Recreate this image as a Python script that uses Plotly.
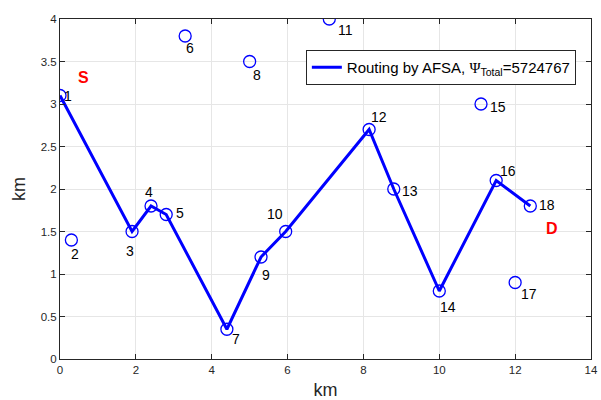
import plotly.graph_objects as go

# Node data
node_ids = list(range(1, 19))
node_x = [0.0, 0.3, 1.9, 2.4, 2.8, 3.3, 4.4, 5.0, 5.3, 5.95, 7.1, 8.15, 8.8, 10.0, 11.1, 11.5, 12.0, 12.4]
node_y = [3.1, 1.4, 1.5, 1.8, 1.7, 3.8, 0.35, 3.5, 1.2, 1.5, 4.0, 2.7, 2.0, 0.8, 3.0, 2.1, 0.9, 1.8]

# Route found by AFSA (node ids)
route = [1, 3, 4, 5, 7, 9, 10, 12, 13, 14, 16, 18]

# Label positions (data coords)
label_x = [0.21, 0.39, 1.84, 2.35, 3.16, 3.44, 4.63, 5.2, 5.44, 5.66, 7.53, 8.4, 9.24, 10.22, 11.56, 11.8, 12.36, 12.85]
label_y = [3.09, 1.24, 1.27, 1.97, 1.72, 3.66, 0.23, 3.34, 0.99, 1.71, 3.87, 2.85, 1.98, 0.61, 2.96, 2.21, 0.77, 1.81]

x_ticks = [0, 2, 4, 6, 8, 10, 12, 14]
y_ticks = [0, 0.5, 1, 1.5, 2, 2.5, 3, 3.5, 4]
y_tick_text = ["0", "0.5", "1", "1.5", "2", "2.5", "3", "3.5", "4"]

route_x = [node_x[i - 1] for i in route]
route_y = [node_y[i - 1] for i in route]

FONT = "Liberation Sans, Arial, sans-serif"

fig = go.Figure()
fig.add_trace(go.Scatter(
    x=node_x, y=node_y, mode="markers",
    marker=dict(symbol="circle-open", size=12, color="#0000ff", line=dict(width=1.3, color="#0000ff")),
    showlegend=False, hoverinfo="skip"))
fig.add_trace(go.Scatter(
    x=route_x, y=route_y, mode="lines",
    line=dict(color="#0000ff", width=3),
    name="Routing by AFSA, <span style=\"font-family:'Liberation Serif'\">Ψ</span><sub>Total</sub>=5724767"))

annotations = []
for i, lx, ly in zip(node_ids, label_x, label_y):
    annotations.append(dict(x=lx, y=ly, xref="x", yref="y", text=str(i), showarrow=False,
                            font=dict(family=FONT, size=14, color="black")))
annotations.append(dict(x=0.63, y=3.31, xref="x", yref="y", text="<b>S</b>", showarrow=False,
                        font=dict(family=FONT, size=16, color="red")))
annotations.append(dict(x=12.97, y=1.54, xref="x", yref="y", text="<b>D</b>", showarrow=False,
                        font=dict(family=FONT, size=16, color="red")))

axis_common = dict(
    showgrid=True, gridcolor="#e6e6e6", gridwidth=1,
    showline=True, linecolor="#262626", linewidth=1, mirror="allticks",
    ticks="inside", ticklen=5, tickcolor="#262626",
    tickfont=dict(family=FONT, size=11.5, color="#262626"),
    zeroline=False, automargin=False,
)

fig.update_layout(
    width=601, height=400,
    margin=dict(l=60, r=10, t=19, b=41),
    plot_bgcolor="white", paper_bgcolor="white",
    xaxis=dict(range=[0, 14], tickvals=x_ticks, title=dict(text="km", font=dict(family=FONT, size=18, color="#262626"), standoff=11), **axis_common),
    yaxis=dict(range=[0, 4], tickvals=y_ticks, ticktext=y_tick_text, title=dict(text="km", font=dict(family=FONT, size=18, color="#262626"), standoff=10), **axis_common),
    legend=dict(x=0.463, y=0.909, xanchor="left", yanchor="top",
                bgcolor="white", bordercolor="#262626", borderwidth=1,
                font=dict(family=FONT, size=15, color="black")),
    annotations=annotations,
)

fig.write_html("out.html")
